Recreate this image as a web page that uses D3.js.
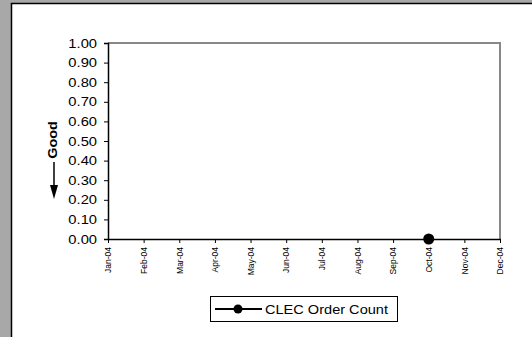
<!DOCTYPE html>
<html><head><meta charset="utf-8">
<script src="https://cdn.jsdelivr.net/npm/d3@7"></script>
<style>body{margin:0;padding:0;overflow:hidden;background:#a8a8a8}svg{display:block}</style>
</head><body><svg id="c" width="532" height="337"></svg>
<script>
const months = ["Jan-04","Feb-04","Mar-04","Apr-04","May-04","Jun-04","Jul-04","Aug-04","Sep-04","Oct-04","Nov-04","Dec-04"];
const clecOrderCount = [null,null,null,null,null,null,null,null,null,0,null,null];
const yTicks = [0,0.1,0.2,0.3,0.4,0.5,0.6,0.7,0.8,0.9,1.0];
const seriesName = "CLEC Order Count";

const svg = d3.select("#c");
svg.append("rect").attr("x",0).attr("y",0).attr("width",532).attr("height",337).attr("fill","#a8a8a8");
svg.append("rect").attr("x",11.5).attr("y",3.5).attr("width",530).attr("height",340).attr("fill","#fff").attr("stroke","#000").attr("stroke-width",1.5);

const L=108,R=500,T=43,B=239;
const x = d3.scalePoint().domain(months).range([L,R]);
const y = d3.scaleLinear().domain([0,1]).range([B,T]);

svg.append("path").attr("d",`M${L},${T}H${R}V${B}`).attr("fill","none").attr("stroke","#888").attr("stroke-width",2);

const ya = svg.append("g").attr("transform",`translate(${L},0)`)
  .call(d3.axisLeft(y).tickValues(yTicks).tickFormat(d3.format(".2f")).tickSize(4));
ya.select(".domain").attr("stroke","#000").attr("stroke-width",1.5);
ya.selectAll(".tick line").attr("stroke","#000");
ya.selectAll("text").attr("font-family","Arial, 'Liberation Sans', sans-serif").attr("font-size","12.5px").attr("fill","#000")
  .attr("x",-9.3).attr("transform","scale(1.18,1)");

const xa = svg.append("g").attr("transform",`translate(0,${B})`)
  .call(d3.axisBottom(x).tickSize(4).tickSizeOuter(0));
xa.select(".domain").attr("stroke","#000").attr("stroke-width",1.5);
xa.selectAll(".tick line").attr("stroke","#000");
xa.selectAll("text").attr("font-family","Arial, 'Liberation Sans', sans-serif").attr("font-size","8.5px").attr("fill","#000")
  .attr("transform","rotate(-90)").attr("text-anchor","end").attr("x",-8).attr("y",0).attr("dy","0.32em");

const pts = months.map((m,i)=>({m,v:clecOrderCount[i]}));
const line = d3.line().defined(d=>d.v!=null).x(d=>x(d.m)).y(d=>y(d.v));
svg.append("path").datum(pts).attr("d",line).attr("fill","none").attr("stroke","#000").attr("stroke-width",2);
svg.selectAll("circle.pt").data(pts.filter(d=>d.v!=null)).enter().append("circle").attr("class","pt")
  .attr("cx",d=>x(d.m)).attr("cy",d=>y(d.v)).attr("r",5.5).attr("fill","#000");

svg.append("text").attr("transform","translate(57,140) rotate(-90) scale(1.15,1)")
  .attr("text-anchor","middle").attr("font-family","Arial, 'Liberation Sans', sans-serif")
  .attr("font-weight","bold").attr("font-size","12.5px").text("Good");
svg.append("line").attr("x1",54).attr("x2",54).attr("y1",162).attr("y2",187).attr("stroke","#000").attr("stroke-width",1.5);
svg.append("path").attr("d","M50,185L58,185L54,199Z").attr("fill","#000");

svg.append("rect").attr("x",210.5).attr("y",296.5).attr("width",187).attr("height",25).attr("fill","#fff").attr("stroke","#000").attr("stroke-width",1);
svg.append("line").attr("x1",215).attr("x2",262).attr("y1",309).attr("y2",309).attr("stroke","#000").attr("stroke-width",2);
svg.append("circle").attr("cx",238).attr("cy",309).attr("r",4.5).attr("fill","#000");
svg.append("text").attr("transform","translate(265,314) scale(1.12,1)").attr("font-family","Arial, 'Liberation Sans', sans-serif")
  .attr("font-size","13px").attr("fill","#000").text(seriesName);
</script></body></html>
